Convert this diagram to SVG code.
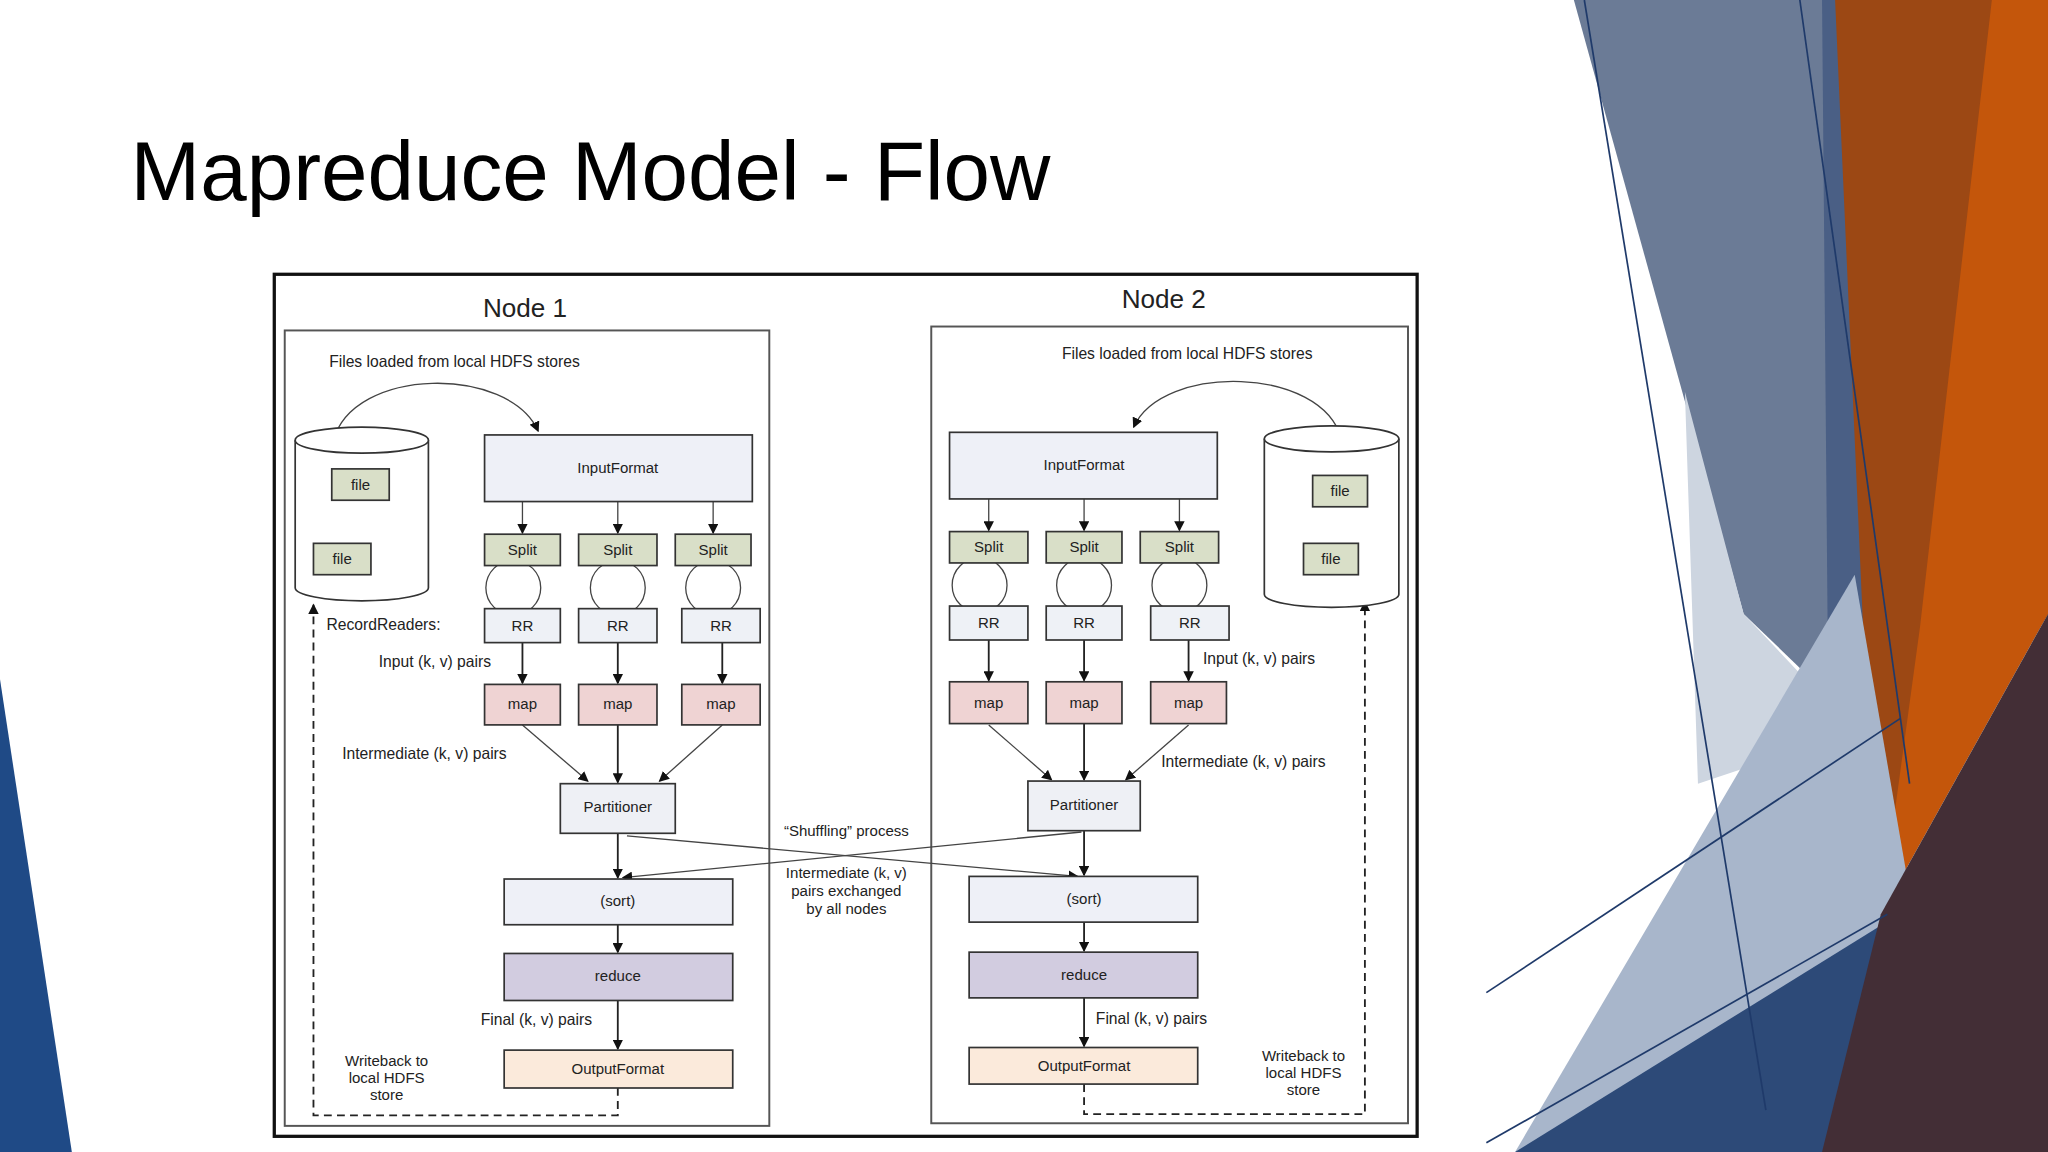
<svg xmlns="http://www.w3.org/2000/svg" width="2048" height="1152" viewBox="0 0 2048 1152">
<defs>
<marker id="ah" markerWidth="8" markerHeight="8" refX="7" refY="4" orient="auto" markerUnits="userSpaceOnUse"><path d="M0,0 L8,4 L0,8 z" fill="#111"/></marker>
<style>
text{font-family:"Liberation Sans",Arial,sans-serif;fill:#222}
.lbl{font-size:11.5px;text-anchor:middle}
.sm{font-size:12px}
.b{stroke:#333;stroke-width:1.3}
.ln{stroke:#222;stroke-width:1.4;fill:none}
.thin{stroke:#444;stroke-width:1;fill:none}
.dash{stroke:#222;stroke-width:1.4;fill:none;stroke-dasharray:6,4}
</style>
</defs>
<rect width="2048" height="1152" fill="#fff"/>
<g transform="scale(1.30612)">
<g id="background">
<polygon points="0,520 55,882 0,882" fill="#1f4a86"/>
<polygon points="1205,0 1400,0 1470,600 1335,470" fill="#6b7b96"/>
<polygon points="1290,300 1335,470 1420,560 1300,600" fill="#cdd5e0"/>
<polygon points="1395,0 1430,0 1480,300 1455,750 1400,560" fill="#4a5f85"/>
<polygon points="1405,0 1568,0 1568,470 1390,770 1430,560" fill="#9c4814"/>
<polygon points="1525,0 1568,0 1568,470 1440,700 1470,480" fill="#c4560b"/>
<polygon points="1160,882 1420,440 1465,700 1420,882" fill="#a8b6cb"/>
<polygon points="1160,882 1470,690 1440,882" fill="#2d4a78"/>
<polygon points="1568,470 1568,882 1395,882 1440,700" fill="#432e36"/>
<g stroke="#1f3a6a" stroke-width="1.3">
<line x1="1213" y1="0" x2="1352" y2="850"/>
<line x1="1378" y1="0" x2="1462" y2="600"/>
<line x1="1138" y1="760" x2="1455" y2="550"/>
<line x1="1138" y1="875" x2="1445" y2="700"/>
</g>
</g>
<text x="100" y="153" font-size="64" style="fill:#000">Mapreduce Model - Flow</text>
<rect x="210" y="210" width="875" height="660" fill="#fff" stroke="#111" stroke-width="2.5"/>
<rect x="218" y="253" width="371" height="609" fill="none" stroke="#555" stroke-width="1.5"/>
<rect x="713" y="250" width="365" height="610" fill="none" stroke="#555" stroke-width="1.5"/>
<text x="402" y="243" font-size="20" text-anchor="middle">Node 1</text>
<text x="891" y="236" font-size="20" text-anchor="middle">Node 2</text>

<g id="connectors">
<path class="thin" d="M255,338 C270,280 390,280 412,330" marker-end="url(#ah)"/>
<path class="thin" d="M1027,336 C1012,280 890,278 868,327" marker-end="url(#ah)"/>
<g class="thin">
<line x1="400" y1="384" x2="400" y2="408" marker-end="url(#ah)"/>
<line x1="473" y1="384" x2="473" y2="408" marker-end="url(#ah)"/>
<line x1="546" y1="384" x2="546" y2="408" marker-end="url(#ah)"/>
<line x1="757" y1="382" x2="757" y2="406" marker-end="url(#ah)"/>
<line x1="830" y1="382" x2="830" y2="406" marker-end="url(#ah)"/>
<line x1="903" y1="382" x2="903" y2="406" marker-end="url(#ah)"/>
<circle cx="393" cy="450" r="21"/><circle cx="473" cy="450" r="21"/><circle cx="546" cy="450" r="21"/>
<circle cx="750" cy="448" r="21"/><circle cx="830" cy="448" r="21"/><circle cx="903" cy="448" r="21"/>
<line x1="400" y1="555" x2="450" y2="598" marker-end="url(#ah)"/>
<line x1="553" y1="555" x2="505" y2="598" marker-end="url(#ah)"/>
<line x1="757" y1="555" x2="805" y2="597" marker-end="url(#ah)"/>
<line x1="910" y1="555" x2="862" y2="597" marker-end="url(#ah)"/>
<line x1="480" y1="640" x2="825" y2="671" marker-end="url(#ah)"/>
<line x1="828" y1="637" x2="477" y2="672" marker-end="url(#ah)"/>
</g>
<g class="ln">
<line x1="400" y1="492" x2="400" y2="523" marker-end="url(#ah)"/>
<line x1="473" y1="492" x2="473" y2="523" marker-end="url(#ah)"/>
<line x1="553" y1="492" x2="553" y2="523" marker-end="url(#ah)"/>
<line x1="757" y1="490" x2="757" y2="521" marker-end="url(#ah)"/>
<line x1="830" y1="490" x2="830" y2="521" marker-end="url(#ah)"/>
<line x1="910" y1="490" x2="910" y2="521" marker-end="url(#ah)"/>
<line x1="473" y1="555" x2="473" y2="599" marker-end="url(#ah)"/>
<line x1="830" y1="554" x2="830" y2="597" marker-end="url(#ah)"/>
<line x1="473" y1="638" x2="473" y2="672" marker-end="url(#ah)"/>
<line x1="830" y1="636" x2="830" y2="670" marker-end="url(#ah)"/>
<line x1="473" y1="708" x2="473" y2="729" marker-end="url(#ah)"/>
<line x1="830" y1="706" x2="830" y2="728" marker-end="url(#ah)"/>
<line x1="473" y1="766" x2="473" y2="803" marker-end="url(#ah)"/>
<line x1="830" y1="764" x2="830" y2="801" marker-end="url(#ah)"/>
</g>
<path class="dash" d="M473,833 V854 H240 V463" marker-end="url(#ah)"/>
<path class="dash" d="M830,830 V853 H1045 V461" marker-end="url(#ah)"/>
</g>

<g id="node1">
<text x="252" y="281" class="sm">Files loaded from local HDFS stores</text>
<g id="cyl1"><path d="M226,337 V450 A51,10 0 0 0 328,450 V337" fill="#fff" stroke="#333" stroke-width="1.3"/><ellipse cx="277" cy="337" rx="51" ry="10" fill="#fff" stroke="#333" stroke-width="1.3"/></g>
<rect x="254" y="359" width="44" height="24" fill="#d9dfc8" class="b"/><text x="276" y="375" class="lbl">file</text>
<rect x="240" y="416" width="44" height="24" fill="#d9dfc8" class="b"/><text x="262" y="432" class="lbl">file</text>
<rect x="371" y="333" width="205" height="51" fill="#eef0f7" class="b"/><text x="473" y="362" class="lbl">InputFormat</text>
<rect x="371" y="409" width="58" height="24" fill="#d9dfc8" class="b"/><text x="400" y="425" class="lbl">Split</text>
<rect x="443" y="409" width="60" height="24" fill="#d9dfc8" class="b"/><text x="473" y="425" class="lbl">Split</text>
<rect x="517" y="409" width="58" height="24" fill="#d9dfc8" class="b"/><text x="546" y="425" class="lbl">Split</text>
<text x="250" y="482" class="sm">RecordReaders:</text>
<rect x="371" y="466" width="58" height="26" fill="#eef1f6" class="b"/><text x="400" y="483" class="lbl">RR</text>
<rect x="443" y="466" width="60" height="26" fill="#eef1f6" class="b"/><text x="473" y="483" class="lbl">RR</text>
<rect x="522" y="466" width="60" height="26" fill="#eef1f6" class="b"/><text x="552" y="483" class="lbl">RR</text>
<text x="290" y="511" class="sm">Input (k, v) pairs</text>
<rect x="371" y="524" width="58" height="31" fill="#efd3d3" class="b"/><text x="400" y="543" class="lbl">map</text>
<rect x="443" y="524" width="60" height="31" fill="#efd3d3" class="b"/><text x="473" y="543" class="lbl">map</text>
<rect x="522" y="524" width="60" height="31" fill="#efd3d3" class="b"/><text x="552" y="543" class="lbl">map</text>
<text x="262" y="581" class="sm">Intermediate (k, v) pairs</text>
<rect x="429" y="600" width="88" height="38" fill="#eef0f5" class="b"/><text x="473" y="622" class="lbl">Partitioner</text>
<rect x="386" y="673" width="175" height="35" fill="#eef0f7" class="b"/><text x="473" y="694" class="lbl">(sort)</text>
<rect x="386" y="730" width="175" height="36" fill="#d2cce0" class="b"/><text x="473" y="751" class="lbl">reduce</text>
<text x="368" y="785" class="sm">Final (k, v) pairs</text>
<rect x="386" y="804" width="175" height="29" fill="#fbeadb" class="b"/><text x="473" y="822" class="lbl">OutputFormat</text>
<text x="296" y="816" class="lbl">Writeback to</text><text x="296" y="829" class="lbl">local HDFS</text><text x="296" y="842" class="lbl">store</text>
</g>

<g id="shuffle">
<text x="648" y="640" class="lbl">“Shuffling” process</text>
<text x="648" y="672" class="lbl">Intermediate (k, v)</text><text x="648" y="686" class="lbl">pairs exchanged</text><text x="648" y="700" class="lbl">by all nodes</text>
</g>

<g id="node2">
<text x="813" y="275" class="sm">Files loaded from local HDFS stores</text>
<g id="cyl2"><path d="M968,336 V455 A51.5,10 0 0 0 1071,455 V336" fill="#fff" stroke="#333" stroke-width="1.3"/><ellipse cx="1019.5" cy="336" rx="51.5" ry="10" fill="#fff" stroke="#333" stroke-width="1.3"/></g>
<rect x="1005" y="364" width="42" height="24" fill="#d9dfc8" class="b"/><text x="1026" y="380" class="lbl">file</text>
<rect x="998" y="416" width="42" height="24" fill="#d9dfc8" class="b"/><text x="1019" y="432" class="lbl">file</text>
<rect x="727" y="331" width="205" height="51" fill="#eef0f7" class="b"/><text x="830" y="360" class="lbl">InputFormat</text>
<rect x="727" y="407" width="60" height="24" fill="#d9dfc8" class="b"/><text x="757" y="423" class="lbl">Split</text>
<rect x="801" y="407" width="58" height="24" fill="#d9dfc8" class="b"/><text x="830" y="423" class="lbl">Split</text>
<rect x="873" y="407" width="60" height="24" fill="#d9dfc8" class="b"/><text x="903" y="423" class="lbl">Split</text>
<rect x="727" y="464" width="60" height="26" fill="#eef1f6" class="b"/><text x="757" y="481" class="lbl">RR</text>
<rect x="801" y="464" width="58" height="26" fill="#eef1f6" class="b"/><text x="830" y="481" class="lbl">RR</text>
<rect x="881" y="464" width="60" height="26" fill="#eef1f6" class="b"/><text x="911" y="481" class="lbl">RR</text>
<text x="921" y="508" class="sm">Input (k, v) pairs</text>
<rect x="727" y="522" width="60" height="32" fill="#efd3d3" class="b"/><text x="757" y="542" class="lbl">map</text>
<rect x="801" y="522" width="58" height="32" fill="#efd3d3" class="b"/><text x="830" y="542" class="lbl">map</text>
<rect x="881" y="522" width="58" height="32" fill="#efd3d3" class="b"/><text x="910" y="542" class="lbl">map</text>
<text x="889" y="587" class="sm">Intermediate (k, v) pairs</text>
<rect x="787" y="598" width="86" height="38" fill="#eef0f5" class="b"/><text x="830" y="620" class="lbl">Partitioner</text>
<rect x="742" y="671" width="175" height="35" fill="#eef0f7" class="b"/><text x="830" y="692" class="lbl">(sort)</text>
<rect x="742" y="729" width="175" height="35" fill="#d2cce0" class="b"/><text x="830" y="750" class="lbl">reduce</text>
<text x="839" y="784" class="sm">Final (k, v) pairs</text>
<rect x="742" y="802" width="175" height="28" fill="#fbeadb" class="b"/><text x="830" y="820" class="lbl">OutputFormat</text>
<text x="998" y="812" class="lbl">Writeback to</text><text x="998" y="825" class="lbl">local HDFS</text><text x="998" y="838" class="lbl">store</text>
</g>
</g>
</svg>
